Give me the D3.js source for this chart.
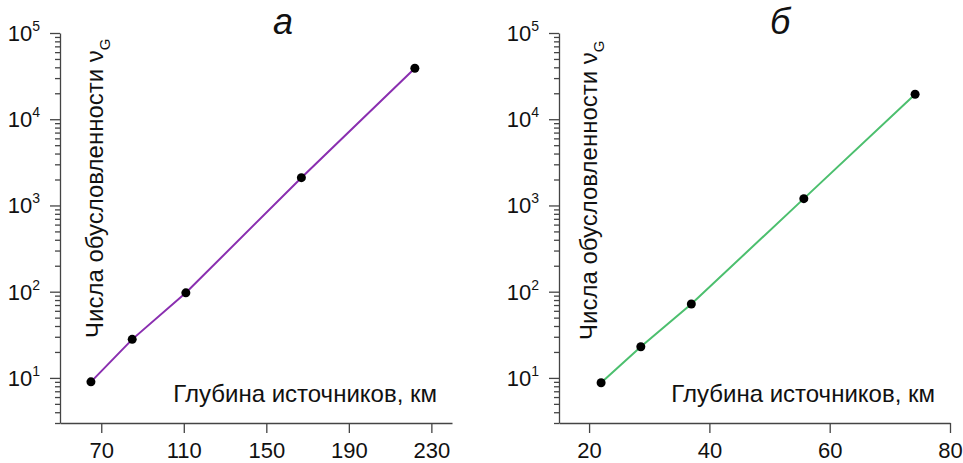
<!DOCTYPE html>
<html>
<head>
<meta charset="utf-8">
<script src="https://cdn.jsdelivr.net/npm/d3@7"></script>
<style>
  body { margin: 0; background: #fff; }
  text { font-family: "Liberation Sans", Arial, sans-serif; fill: #111; }
  .axis path, .axis line { stroke: #444; stroke-width: 1.3; }
</style>
</head>
<body>
<svg id="chart" width="963" height="463"></svg>
<script>
// panel a
const depthA = [65, 85, 111, 167, 222];
const numA = [9, 28, 97, 2100, 39000];
const xTicksA = [70, 110, 150, 190, 230];

// panel б
const depthB = [22, 28.6, 37, 55.7, 74.2];
const numB = [8.8, 23, 72, 1200, 19500];
const xTicksB = [20, 40, 60, 80];

const yMajor = [10, 100, 1000, 10000, 100000];
const yLabelText = "Числа обусловленности ";
const xLabelText = "Глубина источников, км";

const svg = d3.select("#chart");

function panel(opt) {
  const x = d3.scaleLinear().domain(opt.xDomain).range(opt.xRange);
  const y = d3.scaleLog().domain([3, 1e5]).range([423, 33]);
  const g = svg.append("g");
  const x0 = opt.xRange[0];

  // minor y ticks
  const minor = [];
  for (let p = 0; p < 5; p++) {
    for (let k = 2; k <= 9; k++) {
      const v = k * Math.pow(10, p);
      if (v >= 3 && v < 1e5) minor.push(v);
    }
  }
  g.append("g").attr("class", "axis")
    .attr("transform", `translate(${x0},0)`)
    .call(d3.axisLeft(y).tickValues(minor).tickSize(5).tickFormat(""))
    .call(s => s.select(".domain").remove());

  g.append("g").attr("class", "axis")
    .attr("transform", `translate(${x0},0)`)
    .call(d3.axisLeft(y).tickValues(yMajor).tickSize(10).tickSizeOuter(0).tickFormat(""));

  // y tick labels 10^n
  const lab = g.selectAll(".ylab").data(yMajor).join("text")
    .attr("class", "ylab")
    .attr("x", x0 - 20)
    .attr("y", d => y(d) + 8)
    .attr("text-anchor", "end")
    .style("font-size", "22px");
  lab.append("tspan").text("10");
  lab.append("tspan").attr("dy", -10).style("font-size", "14px").text(d => Math.round(Math.log10(d)));

  // x axis
  g.append("g").attr("class", "axis")
    .attr("transform", "translate(0,423)")
    .call(d3.axisBottom(x).tickValues(opt.xTicks).tickSize(10).tickSizeOuter(0).tickPadding(9))
    .call(s => s.selectAll("text").style("font-size", "22px").attr("fill", "#111"));

  // line + points
  const pts = opt.depth.map((d, i) => [d, opt.num[i]]);
  g.append("path")
    .datum(pts)
    .attr("fill", "none")
    .attr("stroke", opt.color)
    .attr("stroke-width", 2)
    .attr("d", d3.line().x(d => x(d[0])).y(d => y(d[1])));
  g.selectAll("circle").data(pts).join("circle")
    .attr("cx", d => x(d[0]))
    .attr("cy", d => y(d[1]))
    .attr("r", 4.5)
    .attr("fill", "#000");

  // y label
  const yl = g.append("text")
    .attr("transform", `translate(${opt.yLabX},${opt.yLabY}) rotate(-90)`)
    .style("font-size", "24px");
  yl.append("tspan").text(yLabelText + "ν");
  yl.append("tspan").attr("dy", 7).style("font-size", "15px").text("G");

  // x label
  g.append("text")
    .attr("x", opt.xLabX)
    .attr("y", 402)
    .attr("text-anchor", "end")
    .style("font-size", "24px")
    .text(xLabelText);

  // panel letter
  g.append("text")
    .attr("x", opt.titleX)
    .attr("y", 34)
    .attr("text-anchor", "middle")
    .style("font-size", "36px")
    .attr("font-style", "italic")
    .text(opt.title);
}

panel({
  depth: depthA, num: numA, xTicks: xTicksA,
  xDomain: [50, 240], xRange: [60, 452],
  color: "#8a2fb0", yLabX: 103, yLabY: 338, xLabX: 437, titleX: 283, title: "а"
});
panel({
  depth: depthB, num: numB, xTicks: xTicksB,
  xDomain: [15, 80], xRange: [559, 950],
  color: "#4cbf6e", yLabX: 597, yLabY: 340, xLabX: 935, titleX: 780, title: "б"
});
</script>
</body>
</html>
